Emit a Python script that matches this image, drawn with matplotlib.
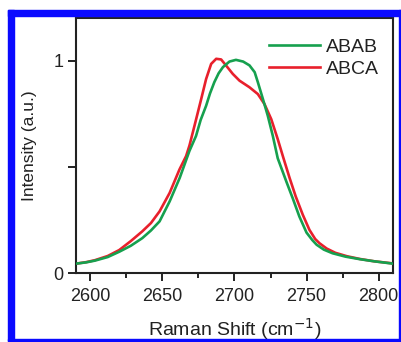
import matplotlib
matplotlib.use("Agg")
import matplotlib.pyplot as plt
from matplotlib.patches import Rectangle
from matplotlib.ticker import MultipleLocator

plt.rcParams['font.family'] = ['Liberation Sans', 'DejaVu Sans']

abab_x = [2590, 2597, 2603, 2612, 2620, 2628, 2636, 2642, 2648, 2655, 2662, 2668.7,
          2673.3, 2676.5, 2680.3, 2683, 2686, 2689, 2692, 2696.5, 2701, 2706, 2710.4,
          2714, 2716.2, 2719.7, 2723.1, 2726.6, 2730, 2736, 2740.5, 2745, 2750, 2754,
          2757, 2762, 2768, 2777, 2787, 2797, 2810]
abab_y = [0.044, 0.050, 0.058, 0.075, 0.100, 0.128, 0.164, 0.200, 0.243, 0.337, 0.448,
          0.574, 0.645, 0.72, 0.787, 0.845, 0.898, 0.94, 0.969, 0.995, 1.003, 0.995,
          0.977, 0.945, 0.898, 0.819, 0.74, 0.645, 0.54, 0.43, 0.35, 0.266, 0.19, 0.155,
          0.133, 0.11, 0.093, 0.077, 0.065, 0.055, 0.044]

abca_x = [2590, 2597, 2603, 2612, 2620, 2628, 2636, 2642, 2648, 2655, 2661.8, 2666.4,
          2668.75, 2672.2, 2676.9, 2680.3, 2683.8, 2687.3, 2690.7, 2694.2, 2698.8,
          2703.5, 2710.4, 2716.2, 2720.8, 2725.5, 2730, 2734, 2738.2, 2742.5, 2747.4,
          2752, 2756, 2759, 2764, 2770, 2778, 2787, 2797, 2810]
abca_y = [0.044, 0.051, 0.060, 0.080, 0.108, 0.150, 0.196, 0.235, 0.29, 0.377, 0.487,
          0.55, 0.60, 0.692, 0.819, 0.913, 0.984, 1.008, 1.005, 0.976, 0.937, 0.905,
          0.874, 0.842, 0.795, 0.724, 0.63, 0.54, 0.448, 0.36, 0.274, 0.203, 0.16, 0.14,
          0.115, 0.095, 0.079, 0.066, 0.055, 0.045]

series_labels = ['ABAB', 'ABCA']
x_ticks = [2600, 2650, 2700, 2750, 2800]
y_ticks = [0, 0.5, 1]
y_ticklabels = ['0', '', '1']

W, H = 402, 342
fig = plt.figure(figsize=(W / 100, H / 100), dpi=100)

# blue frame
blue = '#0a0aff'
def px_rect(x0, y0, x1, y1):
    fig.patches.append(Rectangle((x0 / W, 1 - y1 / H), (x1 - x0) / W, (y1 - y0) / H,
                                 transform=fig.transFigure, color=blue, zorder=0))
px_rect(8, 10, 14, 341)
px_rect(8, 10, 402, 16)
px_rect(399, 10, 401.5, 341)
px_rect(8, 339, 402, 341)

ax = fig.add_axes([76 / W, 1 - 273 / H, (393 - 76) / W, (273 - 18) / H])
ax.plot(abab_x, abab_y, color='#16a04e', lw=1.9, label=series_labels[0], zorder=3,
        solid_joinstyle='round')
ax.plot(abca_x, abca_y, color='#e8202c', lw=1.9, label=series_labels[1], zorder=2,
        solid_joinstyle='round')

ax.set_xlim(2590, 2810)
ax.set_ylim(0, 1.2)
ax.set_xticks(x_ticks)
ax.xaxis.set_minor_locator(MultipleLocator(25))
ax.set_yticks(y_ticks)
ax.set_yticklabels(y_ticklabels)
ax.tick_params(axis='both', which='major', direction='out', length=6, width=1.4,
               labelsize=13, color='#222222', labelcolor='#222222', pad=3)
ax.tick_params(axis='x', which='major', pad=5)
ax.tick_params(axis='x', which='minor', direction='out', length=3.5, width=1.4,
               color='#222222')
for s in ax.spines.values():
    s.set_linewidth(1.5)
    s.set_color('#222222')

ax.set_xlabel('Raman Shift (cm$^{-1}$)', fontsize=14, color='#222222', labelpad=8)
ax.set_ylabel('Intensity (a.u.)', fontsize=12.5, color='#222222', labelpad=12)

leg = ax.legend(loc='upper right', bbox_to_anchor=(1.01, 0.99), frameon=False,
                fontsize=14, handlelength=2.6, handletextpad=0.3, labelspacing=0.25)
for t in leg.get_texts():
    t.set_color('#222222')

fig.savefig('out.png', dpi=100)
